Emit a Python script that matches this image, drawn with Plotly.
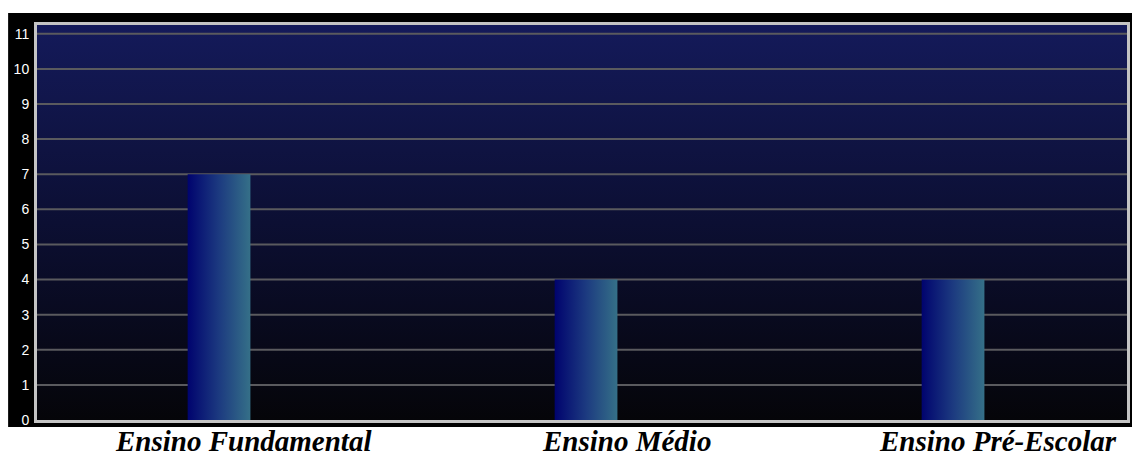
import plotly.graph_objects as go

# Chart data
categories = ["Ensino Fundamental", "Ensino Médio", "Ensino Pré-Escolar"]
values = [7, 4, 4]
y_ticks = list(range(0, 12))

bar_width = 0.171
x_range = [-0.496, 2.474]
y_range = [0, 11.25]

fig = go.Figure()

# Plot-area background with a vertical navy-to-black gradient
fig.add_trace(go.Scatter(
    x=[x_range[0], x_range[1], x_range[1], x_range[0], x_range[0]],
    y=[y_range[0], y_range[0], y_range[1], y_range[1], y_range[0]],
    mode="lines", line=dict(width=0), fill="toself",
    fillgradient=dict(type="vertical",
                      colorscale=[[0, "#050509"], [0.5, "#0c0f33"], [1, "#141a5a"]]),
    hoverinfo="skip", showlegend=False,
))

# Horizontal grid lines drawn over the gradient
for t in y_ticks[1:]:
    fig.add_trace(go.Scatter(
        x=x_range, y=[t, t], mode="lines",
        line=dict(color="#5a5a5e", width=2),
        hoverinfo="skip", showlegend=False,
    ))

# Bars: each filled with a left-to-right navy-to-teal gradient
for i, (cat, v) in enumerate(zip(categories, values)):
    x0, x1 = i - bar_width / 2, i + bar_width / 2
    fig.add_trace(go.Scatter(
        x=[x0, x1, x1, x0, x0], y=[0, 0, v, v, 0],
        mode="lines", line=dict(width=0), fill="toself",
        fillgradient=dict(type="horizontal",
                          colorscale=[[0, "#00036e"], [0.5, "#1c3a80"], [1, "#357088"]]),
        name=cat, showlegend=False,
    ))

# Category captions beneath the chart frame
caption_x = [244, 628, 1001]
for cat, px in zip(categories, caption_x):
    fig.add_annotation(
        x=(px - 37) / 1093, xref="paper", y=-0.008, yref="paper",
        text=cat, showarrow=False, xanchor="center", yanchor="top",
        font=dict(family="Liberation Serif", size=29, color="#000000", weight="bold", style="italic"),
    )

# Black frame around the plot area
fig.add_shape(type="rect", xref="paper", yref="paper",
              x0=-0.0265, x1=1.01, y0=-0.0177, y1=1.0304,
              fillcolor="#000000", line=dict(width=0), layer="below")

fig.update_layout(
    width=1132, height=457,
    margin=dict(l=37, r=2, t=25, b=37),
    paper_bgcolor="#ffffff", plot_bgcolor="#000000",
    xaxis=dict(range=x_range, showgrid=False, zeroline=False, showticklabels=False,
               showline=True, mirror=True, linecolor="#c4c4c4", linewidth=3, ticks=""),
    yaxis=dict(range=y_range, tickvals=y_ticks, showgrid=False, zeroline=False,
               showline=True, mirror=True, linecolor="#c4c4c4", linewidth=3,
               ticks="", ticklabelstandoff=2,
               tickfont=dict(family="Liberation Sans", size=14, color="#ffffff")),
)

fig.write_html("out.html")
